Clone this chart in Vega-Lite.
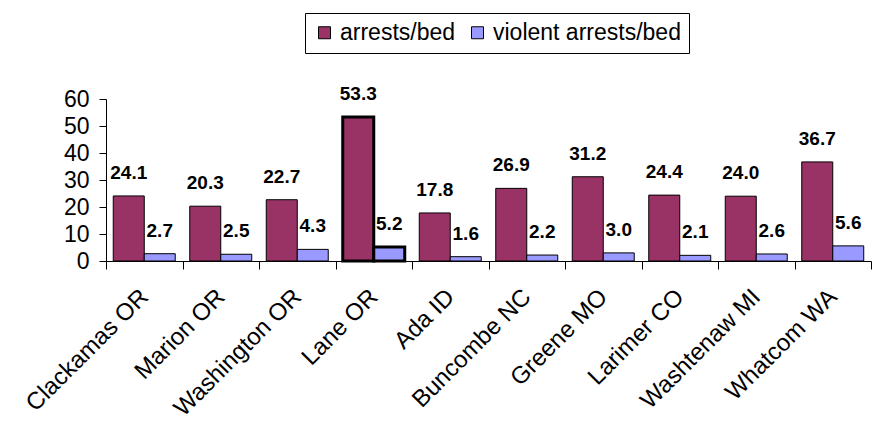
{
  "$schema": "https://vega.github.io/schema/vega-lite/v6.json",
  "autosize": {"type": "none"},
  "width": 765,
  "height": 162,
  "padding": {"left": 106, "top": 99, "right": 4, "bottom": 172},
  "background": "white",
  "data": {
    "values": [
      {"county": "Clackamas OR", "series": "arrests/bed", "value": 24.1},
      {"county": "Clackamas OR", "series": "violent arrests/bed", "value": 2.7},
      {"county": "Marion OR", "series": "arrests/bed", "value": 20.3},
      {"county": "Marion OR", "series": "violent arrests/bed", "value": 2.5},
      {"county": "Washington OR", "series": "arrests/bed", "value": 22.7},
      {"county": "Washington OR", "series": "violent arrests/bed", "value": 4.3},
      {"county": "Lane OR", "series": "arrests/bed", "value": 53.3},
      {"county": "Lane OR", "series": "violent arrests/bed", "value": 5.2},
      {"county": "Ada ID", "series": "arrests/bed", "value": 17.8},
      {"county": "Ada ID", "series": "violent arrests/bed", "value": 1.6},
      {"county": "Buncombe NC", "series": "arrests/bed", "value": 26.9},
      {"county": "Buncombe NC", "series": "violent arrests/bed", "value": 2.2},
      {"county": "Greene MO", "series": "arrests/bed", "value": 31.2},
      {"county": "Greene MO", "series": "violent arrests/bed", "value": 3.0},
      {"county": "Larimer CO", "series": "arrests/bed", "value": 24.4},
      {"county": "Larimer CO", "series": "violent arrests/bed", "value": 2.1},
      {"county": "Washtenaw MI", "series": "arrests/bed", "value": 24.0},
      {"county": "Washtenaw MI", "series": "violent arrests/bed", "value": 2.6},
      {"county": "Whatcom WA", "series": "arrests/bed", "value": 36.7},
      {"county": "Whatcom WA", "series": "violent arrests/bed", "value": 5.6}
    ]
  },
  "encoding": {
    "x": {
      "field": "county",
      "type": "nominal",
      "sort": null,
      "scale": {"paddingInner": 0, "paddingOuter": 0},
      "axis": {
        "title": null,
        "labelAngle": -45,
        "labelAlign": "right",
        "labelBaseline": "middle",
        "labelFont": "Liberation Sans",
        "labelFontSize": 24,
        "labelColor": "black",
        "labelPadding": 24,
        "labelDx": -10,
        "tickBand": "extent",
        "tickSize": 8,
        "tickColor": "black",
        "domainColor": "black",
        "labelOverlap": false
      }
    },
    "xOffset": {
      "field": "series",
      "type": "nominal",
      "scale": {"paddingInner": 0, "paddingOuter": 0.234}
    },
    "y": {
      "field": "value",
      "type": "quantitative",
      "scale": {"domain": [0, 60], "nice": false},
      "axis": {
        "title": null,
        "values": [0, 10, 20, 30, 40, 50, 60],
        "grid": false,
        "labelFont": "Liberation Sans",
        "labelFontSize": 23,
        "labelColor": "black",
        "labelPadding": 10,
        "tickSize": 7,
        "tickColor": "black",
        "domainColor": "black"
      }
    }
  },
  "layer": [
    {
      "mark": {"type": "bar", "stroke": "black"},
      "encoding": {
        "color": {
          "field": "series",
          "type": "nominal",
          "scale": {"domain": ["arrests/bed", "violent arrests/bed"], "range": ["#993366", "#9999FF"]},
          "legend": {
            "title": null,
            "orient": "none",
            "legendX": 199,
            "legendY": -86,
            "direction": "horizontal",
            "columns": 2,
            "columnPadding": 10,
            "symbolType": "square",
            "symbolSize": 144,
            "symbolStrokeColor": "black",
            "symbolStrokeWidth": 1,
            "symbolOpacity": 1,
            "labelFont": "Liberation Sans",
            "labelFontSize": 23,
            "labelColor": "black",
            "labelOffset": 4,
            "labelLimit": 400,
            "strokeColor": "black",
            "fillColor": "white",
            "padding": 8
          }
        },
        "strokeWidth": {
          "condition": {"test": "datum.county === 'Lane OR'", "value": 3},
          "value": 1
        }
      }
    },
    {
      "mark": {
        "type": "text",
        "font": "Liberation Sans",
        "fontWeight": "bold",
        "fontSize": 19,
        "baseline": "alphabetic",
        "dy": -17,
        "color": "black"
      },
      "encoding": {
        "text": {"field": "value", "type": "quantitative", "format": ".1f"}
      }
    }
  ],
  "config": {"view": {"stroke": null}}
}
